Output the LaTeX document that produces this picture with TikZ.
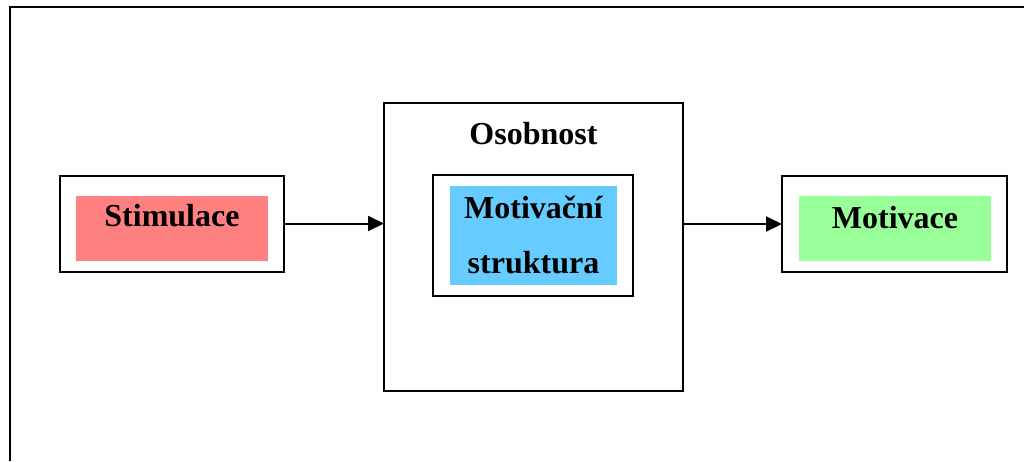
\documentclass[tikz,border=0pt]{standalone}
\usepackage{fontspec}
\setmainfont{Liberation Serif}
\usetikzlibrary{arrows.meta}
\definecolor{pinkfill}{HTML}{FF8080}
\definecolor{bluefill}{HTML}{66CCFF}
\definecolor{greenfill}{HTML}{99FF99}
\tikzset{
  frame/.style={draw=black, line width=2pt, inner sep=0pt, outer sep=0pt},
  fillbox/.style={inner sep=0pt, outer sep=0pt},
  lbl/.style={font=\bfseries\fontsize{32}{55}\selectfont, inner sep=0pt, align=center},
  conn/.style={line width=2pt, -{Triangle[length=16pt,width=15pt]}}
}
\begin{document}
\begin{tikzpicture}[x=1pt,y=-1pt]
\useasboundingbox (0,0) rectangle (1024,461);
\draw[line width=2.5pt] (10,461) -- (10,7) -- (1024,7);
% Stimulace
\node[frame, minimum width=224pt, minimum height=96pt] (stim) at (172,223.5) {};
\node[fillbox, fill=pinkfill, minimum width=192pt, minimum height=65pt] (stimfill) at (172,228.5) {};
\node[lbl] (stimtxt) at (172,216) {Stimulace};
% Osobnost
\node[frame, minimum width=299pt, minimum height=288pt] (oso) at (533.5,247) {};
\node[lbl] (osotxt) at (533.5,134) {Osobnost};
\node[frame, minimum width=200pt, minimum height=121pt] (struct) at (533,235.5) {};
\node[fillbox, fill=bluefill, minimum width=167pt, minimum height=99pt] (structfill) at (533.5,235.5) {};
\node[lbl] (structtxt) at (533.5,235) {Motivační\\struktura};
% Motivace
\node[frame, minimum width=225pt, minimum height=96pt] (mot) at (894.5,224) {};
\node[fillbox, fill=greenfill, minimum width=192pt, minimum height=65pt] (motfill) at (895,228.5) {};
\node[lbl] (mottxt) at (895,218) {Motivace};
% connectors
\draw[conn] (stim.east) -- (stim.east -| oso.west);
\draw[conn] (oso.east |- mot.west) -- (mot.west);
\end{tikzpicture}
\end{document}
